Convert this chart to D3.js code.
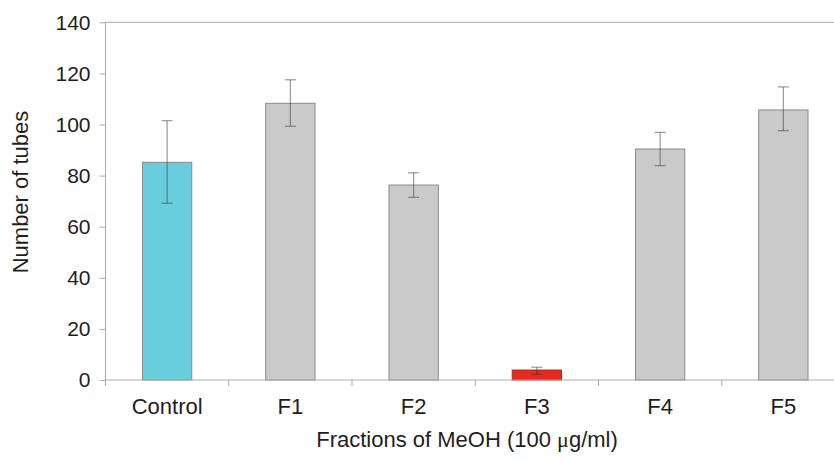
<!DOCTYPE html>
<html>
<head>
<meta charset="utf-8">
<script src="https://cdn.jsdelivr.net/npm/d3@7"></script>
<style>
  html, body { margin: 0; padding: 0; background: #fff; }
  svg { display: block; font-family: "Liberation Sans", Arial, sans-serif; }
</style>
</head>
<body>
<svg id="chart" width="834" height="461"></svg>
<script>
// Tube counts per methanol fraction (mean with error range)
const categories = ["Control", "F1", "F2", "F3", "F4", "F5"];
const means      = [85.2, 108.3, 76.3, 3.9, 90.4, 105.7];
const errLow     = [69.2, 99.3, 71.5, 2.2, 83.9, 97.6];
const errHigh    = [101.5, 117.5, 81.1, 5.0, 96.9, 114.7];
const barColors  = ["#68cedd", "#cacaca", "#cacaca", "#e8291f", "#cacaca", "#cacaca"];
const yTicks     = [0, 20, 40, 60, 80, 100, 120, 140];

const svg = d3.select("#chart");
const plotLeft = 105.5, plotRight = 845, plotTop = 22.3, plotBottom = 380;
const axisColor = "#ababab";
const textColor = "#1e1e1e";

const x = d3.scaleBand()
  .domain(categories)
  .range([plotLeft, plotRight])
  .paddingInner(0.6)
  .paddingOuter(0.3);

const y = d3.scaleLinear().domain([0, 140]).range([plotBottom, plotTop]);

const data = categories.map((c, i) => ({
  cat: c, v: means[i], lo: errLow[i], hi: errHigh[i], color: barColors[i]
}));

// plot frame: top edge
svg.append("line")
  .attr("x1", plotLeft).attr("x2", plotRight)
  .attr("y1", y(140)).attr("y2", y(140))
  .attr("stroke", axisColor).attr("stroke-width", 1);

// bars
svg.append("g").selectAll("rect")
  .data(data)
  .join("rect")
  .attr("x", d => x(d.cat))
  .attr("width", x.bandwidth())
  .attr("y", d => y(d.v))
  .attr("height", d => y(0) - y(d.v))
  .attr("fill", d => d.color)
  .attr("stroke", d => d.cat === "F3" ? "#b8231b" : "#8a8a8a")
  .attr("stroke-width", 1);

// error bars
const eb = svg.append("g")
  .attr("stroke", "#333")
  .attr("stroke-opacity", 0.5)
  .attr("stroke-width", 1.2);
const cap = 5.5;
data.forEach(d => {
  const cx = x(d.cat) + x.bandwidth() / 2;
  eb.append("line").attr("x1", cx).attr("x2", cx).attr("y1", y(d.hi)).attr("y2", y(d.lo));
  eb.append("line").attr("x1", cx - cap).attr("x2", cx + cap).attr("y1", y(d.hi)).attr("y2", y(d.hi));
  eb.append("line").attr("x1", cx - cap).attr("x2", cx + cap).attr("y1", y(d.lo)).attr("y2", y(d.lo));
});

// y axis
const yAxis = svg.append("g")
  .attr("transform", `translate(${plotLeft},0)`)
  .call(d3.axisLeft(y).tickValues(yTicks).tickSize(6).tickPadding(9).tickSizeOuter(0));
yAxis.select(".domain").attr("stroke", axisColor).attr("d", `M0,${y(140)}V${plotBottom + 6}`);
yAxis.selectAll(".tick line").attr("stroke", axisColor);
yAxis.selectAll(".tick text")
  .attr("font-size", 21)
  .attr("fill", textColor)
  .attr("font-family", "Liberation Sans, Arial, sans-serif");

// x axis: baseline, separators between categories, category labels
const step = x.step();
const xg = svg.append("g");
xg.append("line")
  .attr("x1", plotLeft).attr("x2", plotRight)
  .attr("y1", plotBottom).attr("y2", plotBottom)
  .attr("stroke", axisColor);
d3.range(1, categories.length).forEach(i => {
  const tx = plotLeft + i * step;
  xg.append("line")
    .attr("x1", tx).attr("x2", tx)
    .attr("y1", plotBottom).attr("y2", plotBottom + 6)
    .attr("stroke", axisColor);
});
xg.selectAll("text.cat")
  .data(categories)
  .join("text")
  .attr("class", "cat")
  .attr("x", d => x(d) + x.bandwidth() / 2)
  .attr("y", 414)
  .attr("text-anchor", "middle")
  .attr("font-size", 22)
  .attr("fill", textColor)
  .text(d => d);

// axis titles
const xt = svg.append("text")
  .attr("x", 467)
  .attr("y", 447)
  .attr("text-anchor", "middle")
  .attr("font-size", 22)
  .attr("fill", textColor);
xt.append("tspan").text("Fractions of MeOH (100 ");
xt.append("tspan").attr("font-family", "Liberation Serif, serif").text("μ");
xt.append("tspan").text("g/ml)");

svg.append("text")
  .attr("transform", "translate(28,192) rotate(-90)")
  .attr("text-anchor", "middle")
  .attr("font-size", 22)
  .attr("fill", textColor)
  .text("Number of tubes");
</script>
</body>
</html>
